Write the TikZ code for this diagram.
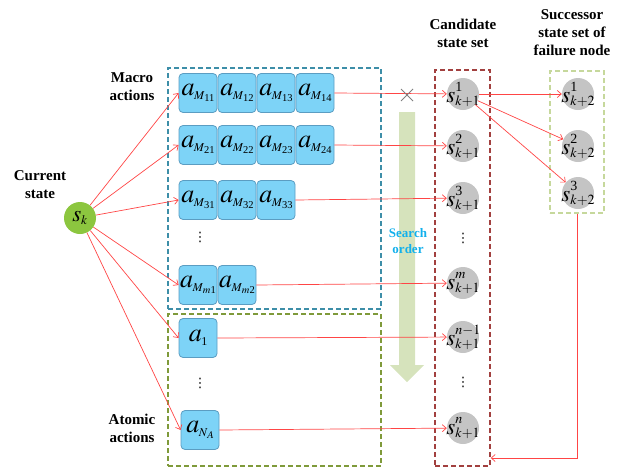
\documentclass[tikz,border=0pt]{standalone}
\usepackage{mathptmx}
\usepackage{fontspec}
\setmainfont{Liberation Serif}
\newfontfamily\symfont{DejaVu Sans}
\usetikzlibrary{arrows.meta}
% math sizes used inside the current state circle
\DeclareMathSizes{23}{23}{13}{10}
% action label: a with a two-level subscript
\newcommand\actlbl[2]{$a$\kern-0.5pt\raisebox{-3.5pt}{\fontsize{12}{12}\selectfont$#1$\kern-0.3pt\raisebox{-2.5pt}{\fontsize{10.5}{10.5}\selectfont #2}}}
% state label: s with superscript and subscript stacked
\newcommand\stlbl[2]{$s$\kern0.2pt\rlap{\raisebox{11.5pt}{\fontsize{14}{14}\selectfont #1}}\raisebox{-2.5pt}{\fontsize{14}{14}\selectfont #2}}
\definecolor{actfill}{HTML}{7DD3F7}
\definecolor{actborder}{HTML}{5B9DC2}
\definecolor{curgreen}{HTML}{8CC63F}
\definecolor{stategray}{HTML}{C4C4C4}
\definecolor{linkred}{HTML}{FF4545}
\definecolor{macroframe}{HTML}{3D8EA8}
\definecolor{atomframe}{HTML}{7F9A3A}
\definecolor{candframe}{HTML}{A2403F}
\definecolor{succframe}{HTML}{C6D89C}
\definecolor{orderfill}{HTML}{D6E3BC}
\definecolor{ordertext}{HTML}{12B0EC}
\tikzset{
  act/.style={draw=actborder, fill=actfill, rounded corners=4pt, line width=0.8pt,
    minimum width=38pt, minimum height=39pt, inner sep=0pt,
    font=\fontsize{26}{26}\selectfont},
  statenode/.style={circle, fill=stategray, minimum size=32pt, inner sep=0pt},
  statetext/.style={font=\fontsize{23}{23}\selectfont, inner sep=0pt},
  link/.style={draw=linkred, line width=0.7pt, -{Straight Barb[length=4pt,width=7pt]}},
  heading/.style={font=\fontsize{15}{18}\selectfont\bfseries, align=center},
  frame/.style={dashed, dash pattern=on 5pt off 3pt, line width=1.4pt, inner sep=0pt},
  dotsnode/.style={font=\symfont\fontsize{13}{13}\selectfont, inner sep=0pt}
}
\begin{document}
\begin{tikzpicture}[x=1pt, y=-1pt]
\useasboundingbox (0,0) rectangle (626,469);

% dashed group frames
\node[frame, draw=macroframe, minimum width=213pt, minimum height=241pt] (macro) at (274.5,188.5) {};
\node[frame, draw=atomframe, minimum width=213pt, minimum height=152pt] (atomic) at (274.5,390) {};
\node[frame, draw=candframe, minimum width=55pt, minimum height=396pt] (cand) at (462.5,268) {};
\node[frame, draw=succframe, minimum width=54pt, minimum height=142pt] (succ) at (577,142) {};

% search order arrow
\fill[orderfill] (399,112) -- (415,112) -- (415,365) -- (424,365) -- (407,382)
  -- (390,365) -- (399,365) -- cycle;
\node[font=\fontsize{13}{16}\selectfont\bfseries, text=ordertext, align=center] (order) at (408,241) {Search\\order};

% headings
\node[heading] (curlabel) at (40,185) {Current\\state};
\node[heading] (macrolabel) at (132,87) {Macro\\actions};
\node[heading] (atomlabel) at (132,428) {Atomic\\actions};
\node[heading] (candlabel) at (463,33) {Candidate\\state set};
\node[heading] (succlabel) at (572,33) {Successor\\state set of\\failure node};

% current state
\node[circle, fill=curgreen, minimum size=32pt, inner sep=0pt,
  label={[statetext]center:$s_k$}] (sk) at (80,218) {};

% macro actions
\node[act] (m11) at (198,93) {\actlbl{M}{11}};
\node[act] (m12) at (237,93) {\actlbl{M}{12}};
\node[act] (m13) at (276,93) {\actlbl{M}{13}};
\node[act] (m14) at (315,93) {\actlbl{M}{14}};
\node[act] (m21) at (198,145) {\actlbl{M}{21}};
\node[act] (m22) at (237,145) {\actlbl{M}{22}};
\node[act] (m23) at (276,145) {\actlbl{M}{23}};
\node[act] (m24) at (315,145) {\actlbl{M}{24}};
\node[act] (m31) at (198,200) {\actlbl{M}{31}};
\node[act] (m32) at (237,200) {\actlbl{M}{32}};
\node[act] (m33) at (276,200) {\actlbl{M}{33}};
\node[dotsnode] (mdots) at (200,237) {⋮};
\node[act] (mm1) at (198,285) {\actlbl{M}{$m$1}};
\node[act] (mm2) at (237,285) {\actlbl{M}{$m$2}};

% atomic actions
\node[act] (at1) at (198,338) {$a$\kern-0.5pt\raisebox{-4pt}{\fontsize{12}{12}\selectfont 1}};
\node[dotsnode] (adots) at (200,383) {⋮};
\node[act] (atn) at (200,430) {\actlbl{N}{$A$}};

% candidate states
\node[statenode, label={[statetext]center:\stlbl{1}{$k{+}1$}}] (c1) at (463,94) {};
\node[statenode, label={[statetext]center:\stlbl{2}{$k{+}1$}}] (c2) at (463,146) {};
\node[statenode, label={[statetext]center:\stlbl{3}{$k{+}1$}}] (c3) at (463,198) {};
\node[dotsnode] (cdots1) at (463,238) {⋮};
\node[statenode, label={[statetext]center:\stlbl{$m$}{$k{+}1$}}] (cm) at (463,283) {};
\node[statenode, label={[statetext]center:\stlbl{$n{-}1$}{$k{+}1$}}] (cn1) at (463,337) {};
\node[dotsnode] (cdots2) at (463,382) {⋮};
\node[statenode, label={[statetext]center:\stlbl{$n$}{$k{+}1$}}] (cn) at (463,428) {};

% successor states of the failure node
\node[statenode, label={[statetext]center:\stlbl{1}{$k{+}2$}}] (d1) at (578,94) {};
\node[statenode, label={[statetext]center:\stlbl{2}{$k{+}2$}}] (d2) at (578,146) {};
\node[statenode, label={[statetext]center:\stlbl{3}{$k{+}2$}}] (d3) at (578,193) {};

% links from the current state
\foreach \t in {m11,m21,m31,mm1,at1,atn}
  \draw[link] (sk) -- (\t.west);

% links into the candidate set
\draw[link] (m14.east) -- (c1);
\draw[link] (m24.east) -- (c2);
\draw[link] (m33.east) -- (c3);
\draw[link] (mm2.east) -- (cm);
\draw[link] (at1.east) -- (cn1);
\draw[link] (atn.east) -- (cn);

% failed first candidate
\draw[gray, line width=0.9pt] (401,89) -- (413,101) (401,101) -- (413,89);
\draw[link] (c1) -- (d1);
\draw[link] (c1) -- (d2);
\draw[link] (c1) -- (d3);

% back to the candidate set
\coordinate (turn) at (577,458);
\draw[link] (succ.south -| turn) -- (turn) -- (cand.east |- turn);
\end{tikzpicture}
\end{document}
